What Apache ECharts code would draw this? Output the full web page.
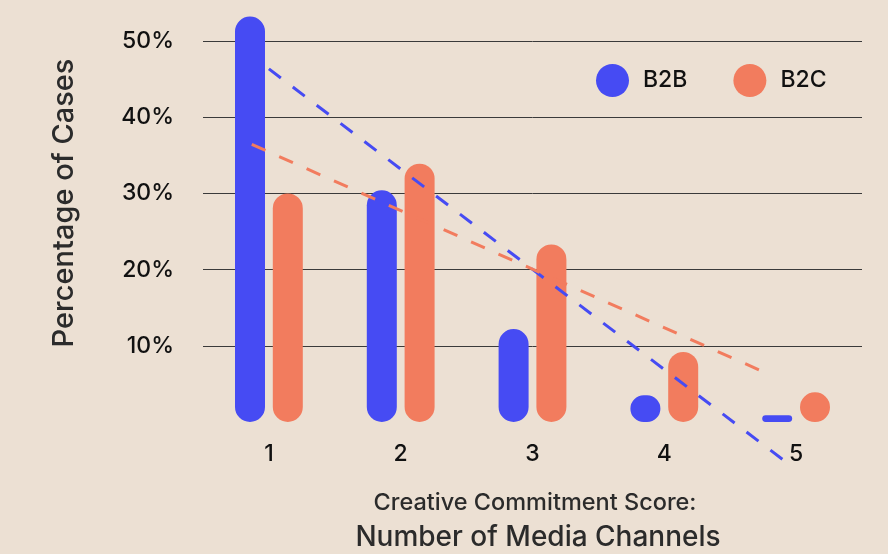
<!DOCTYPE html>
<html>
<head>
<meta charset="utf-8">
<script src="https://cdn.jsdelivr.net/npm/echarts@6/dist/echarts.min.js"></script>
<style>
  html, body { margin: 0; padding: 0; background: #ECE0D3; }
  #chart { width: 888px; height: 554px; }
</style>
</head>
<body>
<div id="chart"></div>
<script>
// Share of cases by number of media channels used
const categories = ['1', '2', '3', '4', '5'];
const b2b = [53.2, 30.4, 12.2, 3.5, 0.9];
const b2c = [30.0, 33.9, 23.3, 9.2, 3.9];
const yTicks = [10, 20, 30, 40, 50];
// horizontal extent of each fitted trend line, in category positions (1 = first)
const b2bTrendSpan = [1.0, 4.9];
const b2cTrendSpan = [0.87, 4.8];

const BLUE = '#464BF3';
const CORAL = '#F27C5E';
const FONT = 'Inter';

// least-squares line through (1, v1), (2, v2), ...
function linearFit(values) {
  const n = values.length;
  const xs = values.map((_, i) => i + 1);
  const mx = xs.reduce((a, b) => a + b, 0) / n;
  const my = values.reduce((a, b) => a + b, 0) / n;
  let sxy = 0, sxx = 0;
  for (let i = 0; i < n; i++) {
    sxy += (xs[i] - mx) * (values[i] - my);
    sxx += (xs[i] - mx) * (xs[i] - mx);
  }
  const slope = sxy / sxx;
  return { slope, intercept: my - slope * mx };
}
function trendPoints(values, span) {
  const f = linearFit(values);
  return span.map(x => [x, f.intercept + f.slope * x]);
}

const chart = echarts.init(document.getElementById('chart'), null, { renderer: 'canvas' });

const barStyle = (color) => ({ color, borderRadius: 15 });
const trendStyle = (color) => ({ color, width: 3, type: [15, 15], cap: 'butt' });

chart.setOption({
  backgroundColor: '#ECE0D3',
  animation: false,
  textStyle: { fontFamily: FONT },
  grid: { left: 203, right: 26, top: 41, bottom: 132 },
  legend: {
    data: ['B2B', 'B2C'],
    left: 591,
    top: 59,
    icon: 'circle',
    itemWidth: 33,
    itemHeight: 33,
    itemGap: 46,
    textStyle: { fontSize: 23, fontWeight: 500, color: '#111', fontFamily: FONT, padding: [0, 0, 0, 9] }
  },
  xAxis: [
    {
      type: 'category',
      data: categories,
      axisLine: { show: false },
      axisTick: { show: false },
      axisLabel: { fontSize: 23, fontWeight: 500, color: '#111', margin: 21, fontFamily: FONT }
    },
    {
      type: 'value',
      min: 0.5,
      max: categories.length + 0.5,
      show: false
    }
  ],
  yAxis: {
    type: 'value',
    min: 0,
    max: yTicks[yTicks.length - 1],
    interval: yTicks[1] - yTicks[0],
    axisLine: { show: false },
    axisTick: { show: false },
    axisLabel: {
      fontSize: 23, fontWeight: 500, color: '#111', margin: 29, fontFamily: FONT,
      formatter: v => (yTicks.includes(v) ? v + '%' : '')
    },
    splitLine: {
      lineStyle: { color: ['rgba(0,0,0,0)', '#3a3a3a', '#3a3a3a', '#3a3a3a', '#3a3a3a', '#3a3a3a'], width: 1 }
    }
  },
  series: [
    {
      name: 'B2B', type: 'bar', data: b2b, barWidth: 30, barGap: '26%',
      clip: false, itemStyle: barStyle(BLUE)
    },
    {
      name: 'B2C', type: 'bar', data: b2c, barWidth: 30, barGap: '26%',
      clip: false, itemStyle: barStyle(CORAL)
    },
    {
      name: 'B2B trend', type: 'line', xAxisIndex: 1, data: trendPoints(b2b, b2bTrendSpan),
      showSymbol: false, symbol: 'none', clip: false, lineStyle: trendStyle(BLUE), z: 5
    },
    {
      name: 'B2C trend', type: 'line', xAxisIndex: 1, data: trendPoints(b2c, b2cTrendSpan),
      showSymbol: false, symbol: 'none', clip: false, lineStyle: trendStyle(CORAL), z: 5
    }
  ],
  graphic: [
    {
      type: 'text', x: 64, y: 203, rotation: Math.PI / 2,
      style: { text: 'Percentage of Cases', fontSize: 29, fontWeight: 500, fontFamily: FONT, fill: '#2b2b2b',
               align: 'center', verticalAlign: 'middle' }
    },
    {
      type: 'text', x: 535, y: 503,
      style: { text: 'Creative Commitment Score:', fontSize: 23.5, fontWeight: 500, fontFamily: FONT, fill: '#2b2b2b',
               align: 'center', verticalAlign: 'middle' }
    },
    {
      type: 'text', x: 538, y: 538,
      style: { text: 'Number of Media Channels', fontSize: 28, fontWeight: 500, fontFamily: FONT, fill: '#2b2b2b',
               align: 'center', verticalAlign: 'middle' }
    }
  ]
});
</script>
</body>
</html>
